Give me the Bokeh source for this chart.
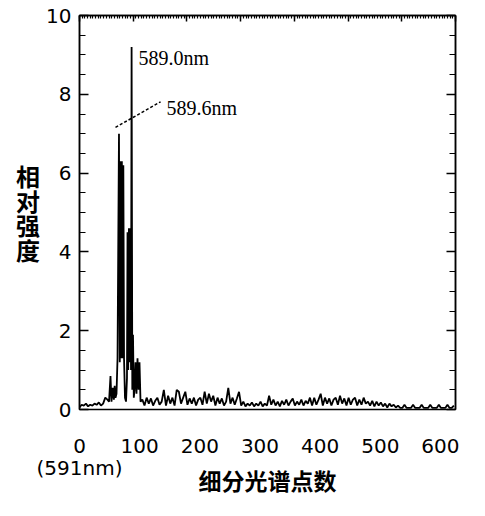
from bokeh.plotting import figure
from bokeh.models import LinearAxis, Range1d, FixedTicker, SingleIntervalTicker, Label
from bokeh.embed import file_html
from bokeh.resources import INLINE

# ---------------- data ----------------
pre_x = [0, 4, 8, 12, 16, 20, 24, 28, 32, 36, 40, 44, 48, 52, 55]
pre_y = [0.05, 0.12, 0.1, 0.15, 0.08, 0.12, 0.1, 0.15, 0.12, 0.18, 0.1, 0.15, 0.3, 0.25, 0.2]

peak_x = [57.7, 59.5, 62, 64, 65.5, 67, 68.9, 70.8, 73.5, 75.0, 76.3, 77.6, 78.9, 80.4, 81.6,
          82.9, 84.7, 86.6, 88.4, 89.4, 90.7, 92.0, 93.3, 94.6, 95.9, 97.0, 98.3, 99.6, 101.1,
          102.4, 104.3, 106.1, 108.0, 109.9, 111.7, 113.6]
peak_y = [0.85, 0.2, 0.55, 0.25, 0.6, 0.3, 0.4, 1.3, 7.0, 1.2, 6.3, 1.3, 6.3, 1.3, 6.2,
          1.3, 0.3, 0.2, 0.8, 4.5, 1.0, 4.6, 1.2, 4.6, 1.0, 9.2, 0.5, 1.9, 0.3,
          0.5, 1.2, 0.4, 1.3, 0.5, 1.2, 0.2]

noise_x = list(range(117, 701, 4))
noise_y = [
    0.25, 0.1, 0.3, 0.15, 0.28, 0.1, 0.22, 0.3, 0.12, 0.2,
    0.5, 0.1, 0.35, 0.15, 0.3, 0.1, 0.5, 0.45, 0.15, 0.3,
    0.45, 0.12, 0.28, 0.15, 0.3, 0.1, 0.25, 0.3, 0.12, 0.45,
    0.15, 0.4, 0.2, 0.35, 0.1, 0.3, 0.15, 0.28, 0.1, 0.2,
    0.55, 0.15, 0.3, 0.12, 0.28, 0.45, 0.1, 0.2, 0.08, 0.15,
    0.1, 0.18, 0.08, 0.15, 0.1, 0.2, 0.08, 0.15, 0.1, 0.35,
    0.12, 0.25, 0.1, 0.2, 0.08, 0.22, 0.12, 0.25, 0.1, 0.2,
    0.28, 0.1, 0.2, 0.12, 0.25, 0.1, 0.22, 0.15, 0.3, 0.1,
    0.3, 0.12, 0.25, 0.4, 0.1, 0.3, 0.15, 0.28, 0.1, 0.25,
    0.3, 0.12, 0.35, 0.15, 0.28, 0.1, 0.3, 0.12, 0.25, 0.3,
    0.1, 0.25, 0.12, 0.3, 0.15, 0.2, 0.1, 0.22, 0.08, 0.2,
    0.1, 0.18, 0.08, 0.15, 0.05, 0.15, 0.08, 0.12, 0.05, 0.1,
    0.04, 0.04, 0.12, 0.04, 0.04, 0.04, 0.12, 0.04, 0.04, 0.04,
    0.12, 0.04, 0.04, 0.04, 0.12, 0.04, 0.04, 0.04, 0.12, 0.04,
    0.04, 0.04, 0.12, 0.04, 0.04, 0.1,
]

x_all = pre_x + peak_x + noise_x
y_all = pre_y + peak_y + noise_y

y_ticks = [0, 2, 4, 6, 8, 10]
x_tick_labels = [0, 100, 200, 300, 400, 500, 600]

peak_labels = ["589.0nm", "589.6nm"]
peak_label_x = [110, 162]
peak_label_y = [8.92, 7.64]
leader_x = [67, 151]
leader_y = [7.16, 7.81]

y_title = "相\n对\n强\n度"
x_title = "细分光谱点数"
x_zero_note = "(591nm)"

# ---------------- figure ----------------
p = figure(width=469, height=500,
           x_range=Range1d(0, 700), y_range=Range1d(0, 10),
           output_backend="svg", toolbar_location=None,
           x_axis_location=None, y_axis_location=None,
           min_border_left=79, min_border_right=14,
           min_border_top=15, min_border_bottom=89)
p.grid.visible = False
p.outline_line_color = "black"
p.outline_line_width = 1.5
p.background_fill_color = "white"
p.border_fill_color = "white"
p.extra_x_ranges = {"lab": Range1d(0, 625)}

TICK_FONT = "DejaVu Sans"


def base_style(ax):
    ax.axis_line_color = "black"
    ax.axis_line_width = 1.5
    ax.major_tick_line_color = "black"
    ax.major_tick_line_width = 1.5
    ax.minor_tick_line_color = "black"
    ax.minor_tick_line_width = 1.2
    ax.major_tick_out = 0
    ax.minor_tick_out = 0
    ax.major_label_text_font = TICK_FONT
    ax.major_label_text_color = "black"


def hide_labels(ax):
    ax.major_label_text_font_size = "0px"
    ax.major_label_standoff = 0


left = LinearAxis(ticker=SingleIntervalTicker(interval=2, num_minor_ticks=4))
base_style(left)
left.major_tick_in = 9
left.minor_tick_in = 6
left.major_label_text_font_size = "20px"
left.major_label_standoff = 8
left.axis_label = y_title
left.axis_label_orientation = "horizontal"
left.axis_label_text_font = "Noto Sans CJK SC"
left.axis_label_text_font_style = "bold"
left.axis_label_text_font_size = "24px"
left.axis_label_text_line_height = 0.7
left.axis_label_text_color = "black"
left.axis_label_standoff = 3
p.add_layout(left, "left")

right = LinearAxis(ticker=SingleIntervalTicker(interval=2, num_minor_ticks=4))
base_style(right)
right.major_tick_in = 9
right.minor_tick_in = 6
hide_labels(right)
p.add_layout(right, "right")

top = LinearAxis(ticker=SingleIntervalTicker(interval=100, num_minor_ticks=20))
base_style(top)
top.major_tick_in = 6
top.minor_tick_in = 3
hide_labels(top)
p.add_layout(top, "above")

bottom = LinearAxis(x_range_name="lab", ticker=FixedTicker(ticks=x_tick_labels))
base_style(bottom)
bottom.axis_line_color = None
bottom.major_tick_in = 0
bottom.minor_tick_in = 0
bottom.major_label_text_font_size = "20px"
bottom.major_label_text_line_height = 0.95
bottom.major_label_standoff = 24
bottom.major_label_overrides = {0: "0\n" + x_zero_note}
bottom.axis_label = x_title
bottom.axis_label_text_font = "Noto Sans CJK SC"
bottom.axis_label_text_font_style = "bold"
bottom.axis_label_text_font_size = "23px"
bottom.axis_label_text_color = "black"
bottom.axis_label_standoff = -20
p.add_layout(bottom, "below")

# spectrum
p.line(x_all, y_all, line_color="black", line_width=1.8)

# leader line for 589.6nm
p.line(leader_x, leader_y, line_color="black", line_width=1.5, line_dash="3 2")

for t, lx, ly in zip(peak_labels, peak_label_x, peak_label_y):
    p.add_layout(Label(x=lx, y=ly, text=t, text_font="Liberation Serif",
                       text_font_size="20px", text_color="black",
                       text_baseline="middle", text_align="left"))

open("out.html", "w").write(file_html(p, INLINE))
